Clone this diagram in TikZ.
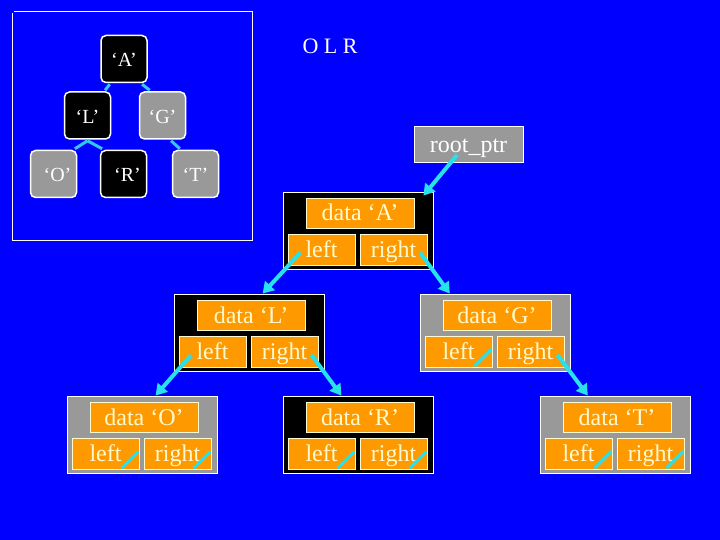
\documentclass[tikz,border=0pt]{standalone}
\usepackage{fontspec}
\setmainfont{Liberation Serif}
\usetikzlibrary{arrows.meta,calc}
\definecolor{bgblue}{RGB}{0,0,255}
\definecolor{boxgray}{RGB}{153,153,153}
\definecolor{fieldorange}{RGB}{255,153,0}
\definecolor{cream}{RGB}{255,250,205}
\definecolor{arrowcyan}{RGB}{40,225,235}
\definecolor{edgecyan}{RGB}{50,200,240}
\definecolor{framewhite}{RGB}{250,250,250}
\tikzset{
  treenode/.style={draw=white, line width=1.5pt, rounded corners=5pt, minimum width=46pt, minimum height=47pt, inner sep=0pt, text=white, font=\fontsize{20}{24}\selectfont, text height=16pt, text depth=0pt},
  treeedge/.style={edgecyan, line width=3pt},
  outerbox/.style={draw=white, line width=0.8pt, minimum width=150pt, minimum height=77pt, inner sep=0pt},
  fieldbox/.style={draw=cream, line width=0.8pt, fill=fieldorange, text=cream, inner sep=0pt, font=\fontsize{24}{28}\selectfont, text height=18pt, text depth=2pt},
  ptrarrow/.style={arrowcyan, line width=4pt, -{Triangle[length=11pt,width=13pt]}},
  nullslash/.style={arrowcyan, line width=3pt},
  rootbox/.style={draw=white, line width=0.8pt, fill=boxgray, text=white, inner sep=0pt, minimum width=109pt, minimum height=36pt, font=\fontsize{24}{28}\selectfont, text height=18pt, text depth=0pt},
  insetframe/.style={draw=framewhite, line width=1pt}
}
\newcommand{\mkrecord}[5]{%
  \node[outerbox, fill=#4] (#1) at (#2+75,#3+38.5) {};
  \node[fieldbox, minimum width=108pt, minimum height=30pt] (#1d) at (#2+77,#3+21) {data ‘#5’};
  \node[fieldbox, minimum width=67pt, minimum height=31pt] (#1l) at (#2+38.5,#3+57.5) {left};
  \node[fieldbox, minimum width=67pt, minimum height=31pt] (#1r) at (#2+110.5,#3+57.5) {right};
}
\begin{document}
\begin{tikzpicture}[x=1pt,y=-1pt]
\useasboundingbox (0,0) rectangle (720,540);
\fill[bgblue] (-1,-1) -- (721,-1) -- (721,541) -- (-1,541) -- cycle;
% inset frame (open at one corner by a hair)
\draw[insetframe] (12,13.5) -- (12,240) -- (252,240) -- (252,12) -- (13.5,12);
% inset tree
\node[treenode, fill=black] (A) at (124,59) {‘A’};
\node[treenode, fill=black] (L) at (87.5,115.5) {‘L’};
\node[treenode, fill=boxgray] (G) at (162.5,115.5) {‘G’};
\node[treenode, fill=boxgray] (O) at (53.5,174) {\hspace*{8pt}‘O’};
\node[treenode, fill=black] (R) at (123.5,174) {\hspace*{8pt}‘R’};
\node[treenode, fill=boxgray] (T) at (195.5,174) {‘T’};
\draw[treeedge] ($(A.south west)!0.2!(A.south east)+(0,1)$) -- ($(L.north west)!0.87!(L.north east)+(0,-1)$);
\draw[treeedge] ($(A.south west)!0.88!(A.south east)+(0,1)$) -- ($(G.north west)!0.23!(G.north east)+(0,-1)$);
\draw[treeedge] ($(L.south)+(0,1)$) -- ($(O.north west)!0.95!(O.north east)+(0,-1)$);
\draw[treeedge] ($(L.south)+(0,1)$) -- ($(R.north west)!0.05!(R.north east)+(0,-1)$);
\draw[treeedge] ($(G.south west)!0.68!(G.south east)+(0,1)$) -- ($(T.north west)!0.17!(T.north east)+(0,-1)$);
% title
\node[text=white, font=\fontsize{22}{26}\selectfont, inner sep=0pt] (title) at (330,46) {O L R};
% root pointer
\node[rootbox] (root) at (468.5,144) {root\_ptr};
% records
\mkrecord{nA}{283}{192}{black}{A}
\mkrecord{nL}{174}{294}{black}{L}
\mkrecord{nG}{420}{294}{boxgray}{G}
\mkrecord{nO}{67}{396}{boxgray}{O}
\mkrecord{nR}{283}{396}{black}{R}
\mkrecord{nT}{540}{396}{boxgray}{T}
% pointer arrows
\draw[ptrarrow] ($(root)+(-11.5,11)$) -- ($(nA.north east)+(-10,4)$);
\draw[ptrarrow] ($(nAl)+(-21,3)$) -- ($(nL.north west)!0.59!(nL.north east)$);
\draw[ptrarrow] ($(nAr)+(26.5,3)$) -- ($(nG.north west)!0.2!(nG.north east)$);
\draw[ptrarrow] ($(nLl)+(-21.5,3.5)$) -- ($(nO.north west)!0.59!(nO.north east)$);
\draw[ptrarrow] ($(nLr)+(27,3.5)$) -- ($(nR.north west)!0.39!(nR.north east)$);
\draw[ptrarrow] ($(nGr)+(27,3.5)$) -- ($(nT.north west)!0.32!(nT.north east)$);
% null pointers
\foreach \b in {nGl,nOl,nOr,nRl,nRr,nTl,nTr}{
  \draw[nullslash] ($(\b.south east)+(-18,-1)$) -- ($(\b.south east)+(-1,-18)$);
}
\end{tikzpicture}
\end{document}
